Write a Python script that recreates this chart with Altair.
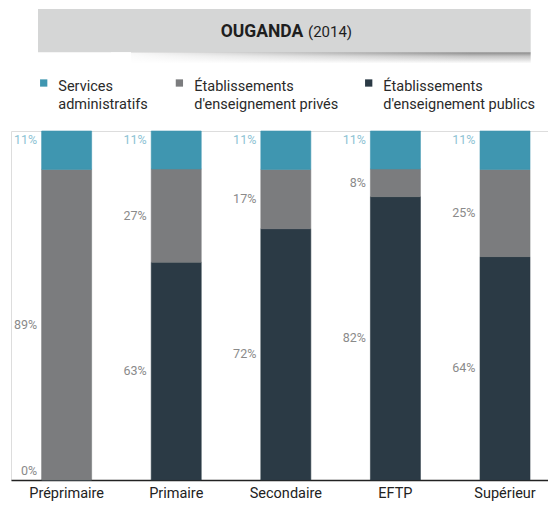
import altair as alt
import pandas as pd

levels = ["Préprimaire", "Primaire", "Secondaire", "EFTP", "Supérieur"]
series = ["Services administratifs",
          "Établissements d'enseignement privés",
          "Établissements d'enseignement publics"]
legend_lines = [["Services", "administratifs"],
                ["Établissements", "d'enseignement privés"],
                ["Établissements", "d'enseignement publics"]]
admin = [11, 11, 11, 11, 11]
prive = [89, 27, 17, 8, 25]
public = [0, 63, 72, 82, 64]
colors = ["#3f96b0", "#7b7c7e", "#2b3a45"]
title_bold = "OUGANDA"
title_year = "(2014)"

rows = []
for i, lv in enumerate(levels):
    vals = {"pub": public[i], "pri": prive[i], "adm": admin[i]}
    tot = sum(vals.values())
    lo = 0.0
    for key, s in [("pub", series[2]), ("pri", series[1]), ("adm", series[0])]:
        hi = lo + vals[key] / tot
        rows.append({"level": lv, "series": s, "key": key, "value": vals[key],
                     "lo": lo, "hi": hi, "mid": (lo + hi) / 2,
                     "label": f"{vals[key]}%"})
        lo = hi
df = pd.DataFrame(rows)

xscale = alt.Scale(domain=levels, paddingInner=0.5438, paddingOuter=0.2218, align=0.63)
yscale = alt.Scale(domain=[0, 1])
X = alt.X("level:N", sort=levels, scale=xscale,
          axis=alt.Axis(title=None, ticks=False, labelAngle=0, labelPadding=6,
                        labelFont="Roboto", labelFontSize=14.5, labelColor="#222222",
                        domainColor="#222222", domainWidth=1.5))

cscale = alt.Scale(domain=series, range=colors)
base = alt.Chart(df)
bars = base.mark_bar(size=50, strokeWidth=0.6).encode(
    x=X,
    y=alt.Y("lo:Q", scale=yscale, axis=None),
    y2="hi:Q",
    color=alt.Color("series:N", scale=cscale, legend=None),
    stroke=alt.Stroke("series:N", scale=cscale, legend=None),
)

lab_font = "Roboto"
lab_size = 12.5
lab_adm = base.transform_filter("datum.key == 'adm'").mark_text(
    align="right", baseline="middle", dx=-29.5, dy=9, fontSize=lab_size, font=lab_font,
    color="#8ec3d4").encode(x=X, y=alt.Y("hi:Q", scale=yscale), text="label:N")
lab_mid = base.transform_filter("datum.key != 'adm' && datum.value > 0").mark_text(
    align="right", baseline="middle", dx=-29.5, fontSize=lab_size, font=lab_font,
    color="#8a8a8a").encode(x=X, y=alt.Y("mid:Q", scale=yscale), text="label:N")
lab_zero = base.transform_filter("datum.key != 'adm' && datum.value == 0").mark_text(
    align="right", baseline="middle", dx=-29.5, dy=-9, fontSize=lab_size, font=lab_font,
    color="#8a8a8a").encode(x=X, y=alt.Y("lo:Q", scale=yscale), text="label:N")

one = alt.Data(values=[{"k": 1}])
banner = alt.Chart(one).mark_rect(color="#d5d6d6").encode(
    x=alt.value(27), x2=alt.value(519.7), y=alt.value(-122), y2=alt.value(-78.7))
shadow = alt.Chart(one).mark_rect(
    fill=alt.Gradient(gradient="linear", x1=0, y1=0, x2=0, y2=1,
                      stops=[alt.GradientStop(color="#888888", offset=0),
                             alt.GradientStop(color="#c4c4c4", offset=0.35),
                             alt.GradientStop(color="#ffffff", offset=1)])).encode(
    x=alt.value(120), x2=alt.value(519.7), y=alt.value(-78.7), y2=alt.value(-67.5))
shadow_fade = alt.Chart(one).mark_rect(
    fill=alt.Gradient(gradient="linear", x1=0, y1=0, x2=1, y2=0,
                      stops=[alt.GradientStop(color="#ffffff", offset=0),
                             alt.GradientStop(color="rgba(255,255,255,0)", offset=1)])).encode(
    x=alt.value(100), x2=alt.value(460), y=alt.value(-78.7), y2=alt.value(-67.5))
t1 = alt.Chart(one).mark_text(text=title_bold, font="Roboto", fontWeight="bold", fontSize=17.5,
                              align="right", baseline="alphabetic", color="#1e1e1e").encode(
    x=alt.value(292.3), y=alt.value(-93.7))
t2 = alt.Chart(one).mark_text(text=title_year, font="Roboto", fontSize=15,
                              align="left", baseline="alphabetic", color="#1e1e1e").encode(
    x=alt.value(297), y=alt.value(-93.7))

leg_sq_x = [32.7, 168.4, 357.7]
leg_tx_x = [47.3, 183.3, 372.3]
legend_layers = []
for i in range(3):
    legend_layers.append(alt.Chart(one).mark_square(size=53, color=colors[i], opacity=1).encode(
        x=alt.value(leg_sq_x[i]), y=alt.value(-48)))
    legend_layers.append(alt.Chart(one).mark_text(
        text=legend_lines[i], font="Roboto", fontSize=14.5, lineHeight=18.6,
        align="left", baseline="alphabetic", color="#2a2a2a").encode(
        x=alt.value(leg_tx_x[i]), y=alt.value(-40.3)))

chart = alt.layer(banner, shadow, shadow_fade, t1, t2, *legend_layers,
                  bars, lab_adm, lab_mid, lab_zero).properties(
    width=537, height=349,
    autosize=alt.AutoSizeParams(type="none"),
    padding={"left": 3, "top": 123, "right": 0, "bottom": 21},
).configure_view(stroke=None).configure(background="white")

chart.save("out.html", embed_options={"renderer": "svg", "actions": False})
